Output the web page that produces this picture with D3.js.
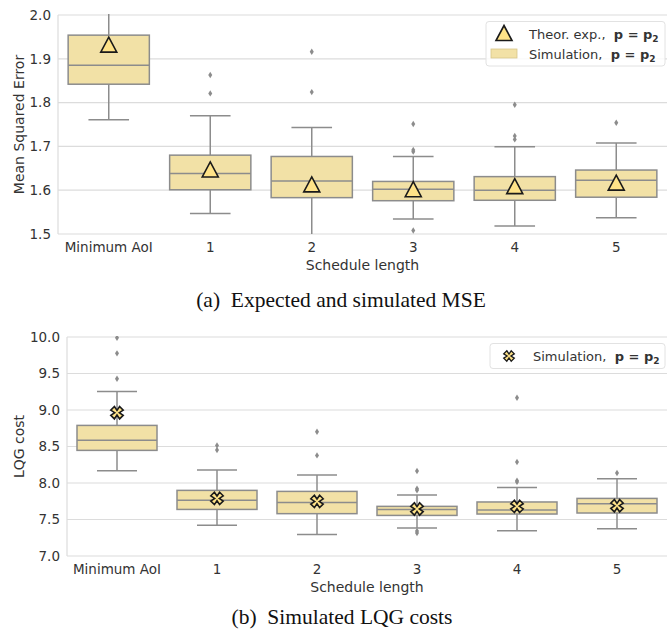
<!DOCTYPE html>
<html>
<head>
<meta charset="utf-8">
<script src="https://d3js.org/d3.v7.min.js"></script>
<style>
  body { margin: 0; background: #fff; }
  text { font-family: "DejaVu Sans", sans-serif; fill: #333; }
  .caption { font-family: "Liberation Serif", "Times New Roman", serif; fill: #111; }
</style>
</head>
<body>
<div id="chart"></div>
<script>
// categories on the x axis
const categories = ["Minimum AoI", "1", "2", "3", "4", "5"];

// panel (a): MSE box stats
const mseLow = [1.761, 1.547, 1.495, 1.534, 1.518, 1.537];
const mseQ1 = [1.842, 1.601, 1.583, 1.576, 1.577, 1.584];
const mseMedian = [1.885, 1.638, 1.621, 1.602, 1.600, 1.623];
const mseQ3 = [1.954, 1.680, 1.677, 1.620, 1.631, 1.646];
const mseHigh = [2.03, 1.770, 1.743, 1.677, 1.699, 1.708];
const mseOutliers = [[], [1.863, 1.821], [1.916, 1.824], [1.751, 1.692, 1.688, 1.508], [1.795, 1.724, 1.716], [1.754]];
const mseTheory = [1.930, 1.645, 1.611, 1.600, 1.607, 1.615];
const mseTicks = [1.5, 1.6, 1.7, 1.8, 1.9, 2.0];

// panel (b): LQG cost box stats
const lqgLow = [8.168, 7.420, 7.296, 7.384, 7.347, 7.374];
const lqgQ1 = [8.447, 7.638, 7.580, 7.556, 7.575, 7.589];
const lqgMedian = [8.584, 7.762, 7.734, 7.638, 7.630, 7.716];
const lqgQ3 = [8.789, 7.899, 7.885, 7.680, 7.740, 7.789];
const lqgHigh = [9.255, 8.178, 8.109, 7.836, 7.940, 8.059];
const lqgOutliers = [[9.776, 9.429, 9.99], [8.515, 8.452], [8.703, 8.378], [8.164, 7.922, 7.900, 7.342, 7.315], [9.168, 8.288, 8.032, 8.015], [8.137]];
const lqgMean = [8.963, 7.789, 7.748, 7.644, 7.680, 7.689];
const lqgTicks = [7.0, 7.5, 8.0, 8.5, 9.0, 9.5, 10.0];

const W = 668, H = 637;
const boxFill = "#f2e1a6", lineGray = "#8c8c8c", markFill = "#ffe388";

const svg = d3.select("#chart").append("svg")
  .attr("width", W).attr("height", H);

function panel(opts) {
  const x = d3.scaleBand().domain(categories).range([opts.left, opts.right]);
  const y = d3.scaleLinear().domain(opts.domain).range([opts.bottom, opts.top]);
  const g = svg.append("g");
  const clipId = "clip-" + opts.id;
  svg.append("clipPath").attr("id", clipId).append("rect")
    .attr("x", opts.left).attr("y", opts.top - 1)
    .attr("width", opts.right - opts.left).attr("height", opts.bottom - opts.top + 1);

  // grid
  g.selectAll(".grid").data(opts.ticks).enter().append("line")
    .attr("x1", opts.left).attr("x2", opts.right)
    .attr("y1", d => y(d)).attr("y2", d => y(d))
    .attr("stroke", "#dcdcdc").attr("stroke-width", 1.2);
  // left spine
  g.append("line").attr("x1", opts.left).attr("x2", opts.left)
    .attr("y1", opts.top).attr("y2", opts.bottom)
    .attr("stroke", "#dcdcdc").attr("stroke-width", 1.2);

  // y axis
  const ya = g.append("g").attr("transform", `translate(${opts.left},0)`)
    .call(d3.axisLeft(y).tickValues(opts.ticks).tickFormat(d3.format(".1f")).tickSize(0).tickPadding(7));
  ya.select(".domain").remove();
  ya.selectAll("text").attr("font-size", 13.5).style("font-family", "DejaVu Sans").attr("fill", "#333");

  // x axis
  const xa = g.append("g").attr("transform", `translate(0,${opts.bottom})`)
    .call(d3.axisBottom(x).tickSize(0).tickPadding(8));
  xa.select(".domain").remove();
  xa.selectAll("text").attr("font-size", 13.5).style("font-family", "DejaVu Sans").attr("fill", "#333");

  g.append("text").attr("text-anchor", "middle").attr("font-size", 14)
    .attr("x", (opts.left + opts.right) / 2).attr("y", opts.bottom + 36)
    .text("Schedule length");
  g.append("text").attr("text-anchor", "middle").attr("font-size", 14)
    .attr("transform", `translate(24,${(opts.top + opts.bottom) / 2}) rotate(-90)`)
    .text(opts.ylabel);

  const plot = g.append("g").attr("clip-path", `url(#${clipId})`);
  const bw = x.bandwidth() * 0.8;
  const cx = c => x(c) + x.bandwidth() / 2;

  const boxes = plot.selectAll(".box").data(categories).enter().append("g");
  // whiskers
  boxes.append("line").attr("x1", cx).attr("x2", cx)
    .attr("y1", (c, i) => y(opts.high[i])).attr("y2", (c, i) => y(opts.q3[i]))
    .attr("stroke", lineGray).attr("stroke-width", 1.5);
  boxes.append("line").attr("x1", cx).attr("x2", cx)
    .attr("y1", (c, i) => y(opts.q1[i])).attr("y2", (c, i) => y(opts.low[i]))
    .attr("stroke", lineGray).attr("stroke-width", 1.5);
  // caps
  [opts.high, opts.low].forEach(arr => {
    boxes.append("line")
      .attr("x1", c => cx(c) - bw / 4).attr("x2", c => cx(c) + bw / 4)
      .attr("y1", (c, i) => y(arr[i])).attr("y2", (c, i) => y(arr[i]))
      .attr("stroke", lineGray).attr("stroke-width", 1.5);
  });
  boxes.append("rect")
    .attr("x", c => cx(c) - bw / 2).attr("width", bw)
    .attr("y", (c, i) => y(opts.q3[i]))
    .attr("height", (c, i) => y(opts.q1[i]) - y(opts.q3[i]))
    .attr("fill", boxFill).attr("stroke", lineGray).attr("stroke-width", 1.5);
  boxes.append("line")
    .attr("x1", c => cx(c) - bw / 2).attr("x2", c => cx(c) + bw / 2)
    .attr("y1", (c, i) => y(opts.median[i])).attr("y2", (c, i) => y(opts.median[i]))
    .attr("stroke", lineGray).attr("stroke-width", 1.5);
  // outliers
  boxes.each(function(c, i) {
    d3.select(this).selectAll(".out").data(opts.outliers[i]).enter().append("path")
      .attr("d", "M0,-3.2L2,0L0,3.2L-2,0Z")
      .attr("transform", v => `translate(${cx(c)},${y(v)})`)
      .attr("fill", lineGray);
  });
  // markers
  plot.selectAll(".mark").data(categories).enter().append("path")
    .attr("d", opts.marker)
    .attr("transform", (c, i) => `translate(${cx(c)},${y(opts.mark[i])})`)
    .attr("fill", markFill).attr("stroke", "#1a1a1a").attr("stroke-width", 1.6)
    .attr("stroke-linejoin", "miter");
  return g;
}

const triPath = "M0,-8.5L8,6.5L-8,6.5Z";
const xPath = (() => {
  const a = 2.6, b = 6.2;
  return `M${-a},${-b}L0,${-a * 0.9}L${a},${-b}L${b},${-a}L${a * 0.9},0L${b},${a}L${a},${b}L0,${a * 0.9}L${-a},${b}L${-b},${a}L${-a * 0.9},0L${-b},${-a}Z`;
})();

panel({ id: "a", left: 58, right: 667, top: 15, bottom: 234, domain: [1.5, 2.0], ticks: mseTicks,
  ylabel: "Mean Squared Error", low: mseLow, q1: mseQ1, median: mseMedian, q3: mseQ3, high: mseHigh,
  outliers: mseOutliers, mark: mseTheory, marker: triPath });
panel({ id: "b", left: 67, right: 667, top: 337, bottom: 556, domain: [7.0, 10.0], ticks: lqgTicks,
  ylabel: "LQG cost", low: lqgLow, q1: lqgQ1, median: lqgMedian, q3: lqgQ3, high: lqgHigh,
  outliers: lqgOutliers, mark: lqgMean, marker: xPath });

function legendLabel(g, x, y, prefix) {
  const t = g.append("text").attr("x", x).attr("y", y).attr("font-size", 13).attr("xml:space", "preserve");
  t.append("tspan").text(prefix + "  ");
  t.append("tspan").attr("font-weight", "bold").text("p = p");
  t.append("tspan").attr("font-weight", "bold").attr("font-size", 9).attr("dy", 3).text("2");
}

// legend (a)
const la = svg.append("g");
la.append("rect").attr("x", 486).attr("y", 21.5).attr("width", 179).attr("height", 44.5)
  .attr("rx", 3).attr("fill", "#fff").attr("fill-opacity", 0.85).attr("stroke", "#e2e2e2");
la.append("path").attr("d", triPath).attr("transform", "translate(504,34)")
  .attr("fill", markFill).attr("stroke", "#1a1a1a").attr("stroke-width", 1.6);
legendLabel(la, 529, 38.5, "Theor. exp.,");
la.append("rect").attr("x", 491).attr("y", 49).attr("width", 26).attr("height", 9)
  .attr("fill", boxFill).attr("stroke", "#d8c68a").attr("stroke-width", 0.8);
legendLabel(la, 529, 58.5, "Simulation,");

// legend (b)
const lb = svg.append("g");
lb.append("rect").attr("x", 490).attr("y", 343.5).attr("width", 175).attr("height", 25)
  .attr("rx", 3).attr("fill", "#fff").attr("fill-opacity", 0.85).attr("stroke", "#e2e2e2");
lb.append("path").attr("d", xPath).attr("transform", "translate(509,356) scale(0.85)")
  .attr("fill", markFill).attr("stroke", "#1a1a1a").attr("stroke-width", 1.6);
legendLabel(lb, 533, 360.5, "Simulation,");

// captions
svg.append("text").attr("class", "caption").attr("x", 341).attr("y", 307)
  .attr("text-anchor", "middle").attr("font-size", 21.5).attr("xml:space", "preserve")
  .text("(a)  Expected and simulated MSE");
svg.append("text").attr("class", "caption").attr("x", 342).attr("y", 624)
  .attr("text-anchor", "middle").attr("font-size", 21.5).attr("xml:space", "preserve")
  .text("(b)  Simulated LQG costs");
</script>
</body>
</html>
